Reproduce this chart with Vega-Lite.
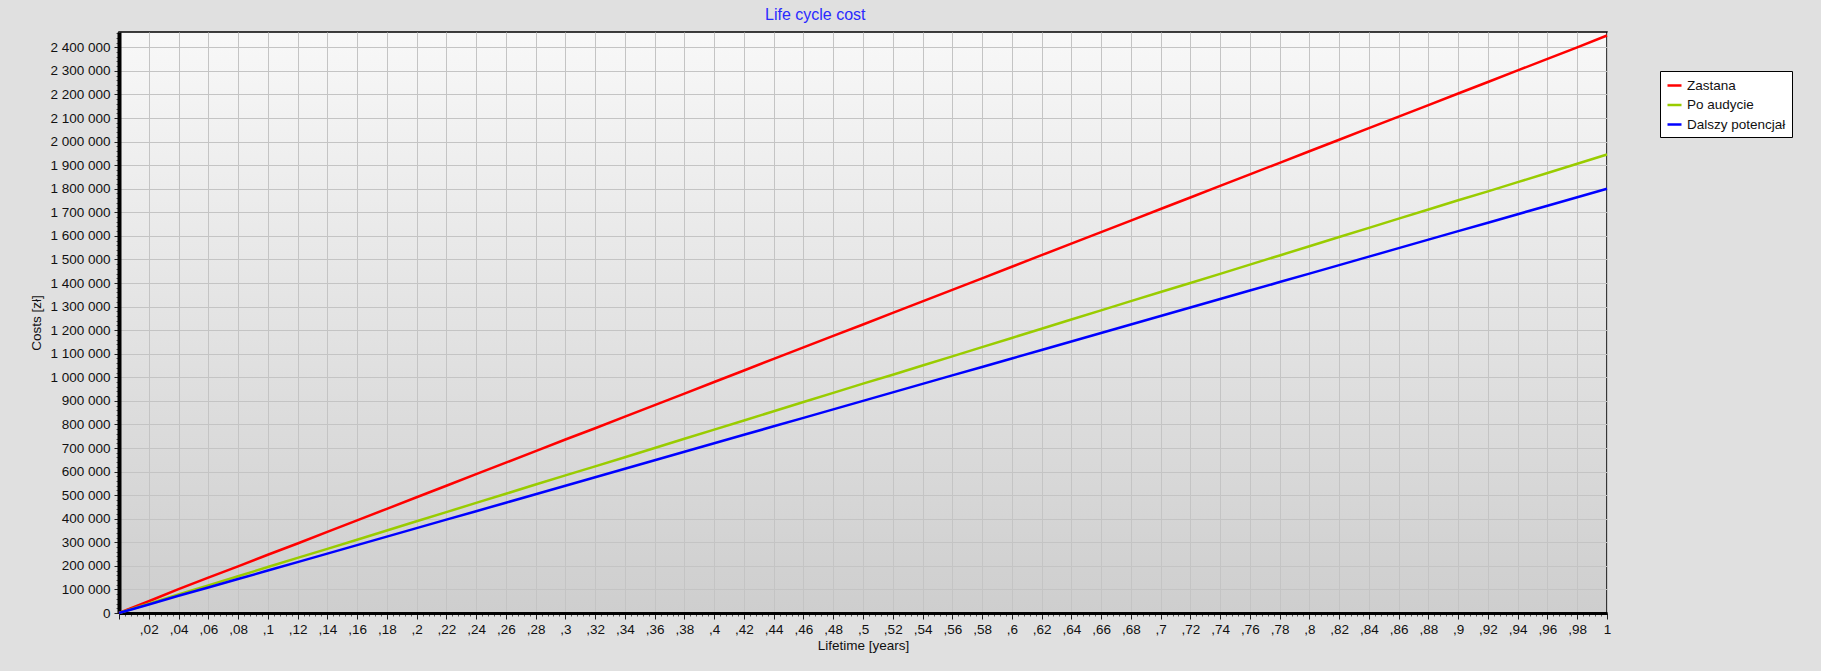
{
  "$schema": "https://vega.github.io/schema/vega-lite/v6.json",
  "width": 1488,
  "height": 581,
  "autosize": {"type": "none"},
  "padding": {"left": 119, "top": 32, "right": 214, "bottom": 58},
  "background": "#e0e0e0",
  "title": {"text": "Life cycle cost", "color": "#2a2aff", "font": "Liberation Sans", "fontSize": 16, "fontWeight": "normal", "anchor": "start", "frame": "group", "dx": 646, "offset": 8},
  "config": {
    "view": {"fill": {"gradient": "linear", "x1": 0, "y1": 0, "x2": 0, "y2": 1, "stops": [{"offset": 0, "color": "#f8f8f8"}, {"offset": 1, "color": "#cecece"}]}, "stroke": "black", "strokeWidth": 1.5},
    "axis": {"labelFont": "Liberation Sans", "titleFont": "Liberation Sans", "labelColor": "#111111", "titleColor": "#111111", "labelFontSize": 13.5, "titleFontSize": 13.5, "titleFontWeight": "normal", "gridColor": "#c4c4c4", "gridWidth": 1, "gridOpacity": 1, "tickColor": "#222222", "domainColor": "black"}
  },
  "data": {"values": [
    {"t": 0, "Zastana": 0, "Po audycie": 0, "Dalszy potencjał": 0},
    {"t": 0.02, "Zastana": 50000, "Po audycie": 39000, "Dalszy potencjał": 36000},
    {"t": 0.04, "Zastana": 101000, "Po audycie": 78500, "Dalszy potencjał": 73000},
    {"t": 0.06, "Zastana": 150000, "Po audycie": 117000, "Dalszy potencjał": 108000},
    {"t": 0.08, "Zastana": 198000, "Po audycie": 156000, "Dalszy potencjał": 144000},
    {"t": 0.1, "Zastana": 247000, "Po audycie": 195000, "Dalszy potencjał": 180000},
    {"t": 0.12, "Zastana": 295000, "Po audycie": 234000, "Dalszy potencjał": 216000},
    {"t": 0.14, "Zastana": 344000, "Po audycie": 272000, "Dalszy potencjał": 252000},
    {"t": 0.16, "Zastana": 393000, "Po audycie": 311000, "Dalszy potencjał": 288000},
    {"t": 0.18, "Zastana": 442000, "Po audycie": 350000, "Dalszy potencjał": 324000},
    {"t": 0.2, "Zastana": 491000, "Po audycie": 389000, "Dalszy potencjał": 360000},
    {"t": 0.22, "Zastana": 540000, "Po audycie": 428000, "Dalszy potencjał": 396000},
    {"t": 0.24, "Zastana": 589000, "Po audycie": 467000, "Dalszy potencjał": 432000},
    {"t": 0.26, "Zastana": 638000, "Po audycie": 506000, "Dalszy potencjał": 468000},
    {"t": 0.28, "Zastana": 687000, "Po audycie": 545000, "Dalszy potencjał": 504000},
    {"t": 0.3, "Zastana": 736000, "Po audycie": 584000, "Dalszy potencjał": 540000},
    {"t": 0.32, "Zastana": 784000, "Po audycie": 622000, "Dalszy potencjał": 576000},
    {"t": 0.34, "Zastana": 833000, "Po audycie": 661000, "Dalszy potencjał": 612000},
    {"t": 0.36, "Zastana": 882000, "Po audycie": 700000, "Dalszy potencjał": 648000},
    {"t": 0.38, "Zastana": 931000, "Po audycie": 739000, "Dalszy potencjał": 684000},
    {"t": 0.4, "Zastana": 980000, "Po audycie": 778000, "Dalszy potencjał": 720000},
    {"t": 0.42, "Zastana": 1029000, "Po audycie": 817000, "Dalszy potencjał": 756000},
    {"t": 0.44, "Zastana": 1078000, "Po audycie": 856000, "Dalszy potencjał": 792000},
    {"t": 0.46, "Zastana": 1127000, "Po audycie": 895000, "Dalszy potencjał": 828000},
    {"t": 0.48, "Zastana": 1176000, "Po audycie": 934000, "Dalszy potencjał": 864000},
    {"t": 0.5, "Zastana": 1224000, "Po audycie": 973000, "Dalszy potencjał": 900000},
    {"t": 0.52, "Zastana": 1273000, "Po audycie": 1011000, "Dalszy potencjał": 936000},
    {"t": 0.54, "Zastana": 1322000, "Po audycie": 1050000, "Dalszy potencjał": 972000},
    {"t": 0.56, "Zastana": 1371000, "Po audycie": 1089000, "Dalszy potencjał": 1008000},
    {"t": 0.58, "Zastana": 1420000, "Po audycie": 1128000, "Dalszy potencjał": 1044000},
    {"t": 0.6, "Zastana": 1469000, "Po audycie": 1167000, "Dalszy potencjał": 1080000},
    {"t": 0.62, "Zastana": 1518000, "Po audycie": 1206000, "Dalszy potencjał": 1116000},
    {"t": 0.64, "Zastana": 1567000, "Po audycie": 1245000, "Dalszy potencjał": 1152000},
    {"t": 0.66, "Zastana": 1616000, "Po audycie": 1284000, "Dalszy potencjał": 1188000},
    {"t": 0.68, "Zastana": 1665000, "Po audycie": 1323000, "Dalszy potencjał": 1224000},
    {"t": 0.7, "Zastana": 1714000, "Po audycie": 1362000, "Dalszy potencjał": 1260000},
    {"t": 0.72, "Zastana": 1763000, "Po audycie": 1400000, "Dalszy potencjał": 1296000},
    {"t": 0.74, "Zastana": 1812000, "Po audycie": 1439000, "Dalszy potencjał": 1332000},
    {"t": 0.76, "Zastana": 1861000, "Po audycie": 1478000, "Dalszy potencjał": 1368000},
    {"t": 0.78, "Zastana": 1910000, "Po audycie": 1517000, "Dalszy potencjał": 1404000},
    {"t": 0.8, "Zastana": 1959000, "Po audycie": 1556000, "Dalszy potencjał": 1440000},
    {"t": 0.82, "Zastana": 2008000, "Po audycie": 1595000, "Dalszy potencjał": 1476000},
    {"t": 0.84, "Zastana": 2057000, "Po audycie": 1634000, "Dalszy potencjał": 1512000},
    {"t": 0.86, "Zastana": 2106000, "Po audycie": 1673000, "Dalszy potencjał": 1548000},
    {"t": 0.88, "Zastana": 2155000, "Po audycie": 1712000, "Dalszy potencjał": 1584000},
    {"t": 0.9, "Zastana": 2204000, "Po audycie": 1751000, "Dalszy potencjał": 1620000},
    {"t": 0.92, "Zastana": 2253000, "Po audycie": 1789000, "Dalszy potencjał": 1656000},
    {"t": 0.94, "Zastana": 2302000, "Po audycie": 1828000, "Dalszy potencjał": 1692000},
    {"t": 0.96, "Zastana": 2351000, "Po audycie": 1867000, "Dalszy potencjał": 1728000},
    {"t": 0.98, "Zastana": 2400000, "Po audycie": 1906000, "Dalszy potencjał": 1764000},
    {"t": 1, "Zastana": 2450000, "Po audycie": 1945000, "Dalszy potencjał": 1800000}
  ]},
  "transform": [{"fold": ["Zastana", "Po audycie", "Dalszy potencjał"], "as": ["series", "cost"]}],
  "layer": [
    {
      "mark": {"type": "line", "opacity": 0},
      "encoding": {
        "x": {"field": "t", "type": "quantitative", "scale": {"domain": [0, 1], "nice": false, "zero": false},
          "axis": {"orient": "bottom", "values": [0.004,0.008,0.012,0.016,0.024,0.028,0.032,0.036,0.044,0.048,0.052,0.056,0.064,0.068,0.072,0.076,0.084,0.088,0.092,0.096,
            0.104,0.108,0.112,0.116,0.124,0.128,0.132,0.136,0.144,0.148,0.152,0.156,0.164,0.168,0.172,0.176,0.184,0.188,0.192,0.196,
            0.204,0.208,0.212,0.216,0.224,0.228,0.232,0.236,0.244,0.248,0.252,0.256,0.264,0.268,0.272,0.276,0.284,0.288,0.292,0.296,
            0.304,0.308,0.312,0.316,0.324,0.328,0.332,0.336,0.344,0.348,0.352,0.356,0.364,0.368,0.372,0.376,0.384,0.388,0.392,0.396,
            0.404,0.408,0.412,0.416,0.424,0.428,0.432,0.436,0.444,0.448,0.452,0.456,0.464,0.468,0.472,0.476,0.484,0.488,0.492,0.496,
            0.504,0.508,0.512,0.516,0.524,0.528,0.532,0.536,0.544,0.548,0.552,0.556,0.564,0.568,0.572,0.576,0.584,0.588,0.592,0.596,
            0.604,0.608,0.612,0.616,0.624,0.628,0.632,0.636,0.644,0.648,0.652,0.656,0.664,0.668,0.672,0.676,0.684,0.688,0.692,0.696,
            0.704,0.708,0.712,0.716,0.724,0.728,0.732,0.736,0.744,0.748,0.752,0.756,0.764,0.768,0.772,0.776,0.784,0.788,0.792,0.796,
            0.804,0.808,0.812,0.816,0.824,0.828,0.832,0.836,0.844,0.848,0.852,0.856,0.864,0.868,0.872,0.876,0.884,0.888,0.892,0.896,
            0.904,0.908,0.912,0.916,0.924,0.928,0.932,0.936,0.944,0.948,0.952,0.956,0.964,0.968,0.972,0.976,0.984,0.988,0.992,0.996],
            "labels": false, "grid": false, "domain": false, "title": null, "tickSize": 3, "tickColor": "#555555"}},
        "y": {"field": "cost", "type": "quantitative", "scale": {"domain": [0, 2465000], "nice": false},
          "axis": {"orient": "left", "values": [20000,40000,60000,80000,120000,140000,160000,180000,220000,240000,260000,280000,320000,340000,360000,380000,420000,440000,460000,480000,520000,540000,560000,580000,620000,640000,660000,680000,720000,740000,760000,780000,820000,840000,860000,880000,920000,940000,960000,980000,1020000,1040000,1060000,1080000,1120000,1140000,1160000,1180000,1220000,1240000,1260000,1280000,1320000,1340000,1360000,1380000,1420000,1440000,1460000,1480000,1520000,1540000,1560000,1580000,1620000,1640000,1660000,1680000,1720000,1740000,1760000,1780000,1820000,1840000,1860000,1880000,1920000,1940000,1960000,1980000,2020000,2040000,2060000,2080000,2120000,2140000,2160000,2180000,2220000,2240000,2260000,2280000,2320000,2340000,2360000,2380000,2420000,2440000,2460000],
            "labels": false, "grid": false, "domain": false, "title": null, "tickSize": 3, "tickColor": "#555555"}},
        "detail": {"field": "series"}
      }
    },
    {
      "mark": {"type": "line", "strokeWidth": 2.5},
      "encoding": {
        "x": {"field": "t", "type": "quantitative", "scale": {"domain": [0, 1], "nice": false, "zero": false},
          "axis": {"orient": "bottom", "title": "Lifetime [years]", "grid": true, "values": [0,0.02,0.04,0.06,0.08,0.1,0.12,0.14,0.16,0.18,0.2,0.22,0.24,0.26,0.28,0.3,0.32,0.34,0.36,0.38,0.4,0.42,0.44,0.46,0.48,0.5,0.52,0.54,0.56,0.58,0.6,0.62,0.64,0.66,0.68,0.7,0.72,0.74,0.76,0.78,0.8,0.82,0.84,0.86,0.88,0.9,0.92,0.94,0.96,0.98,1],
            "labelExpr": "datum.value == 0 ? '' : replace(format(datum.value, '.2~f'), '0.', ',')",
            "tickSize": 6, "labelPadding": 3, "domainWidth": 3, "titlePadding": 3, "labelFlush": false, "labelOverlap": false}},
        "y": {"field": "cost", "type": "quantitative", "scale": {"domain": [0, 2465000], "nice": false},
          "axis": {"orient": "left", "title": "Costs [zł]", "grid": true, "values": [0,100000,200000,300000,400000,500000,600000,700000,800000,900000,1000000,1100000,1200000,1300000,1400000,1500000,1600000,1700000,1800000,1900000,2000000,2100000,2200000,2300000,2400000],
            "labelExpr": "replace(format(datum.value, ','), regexp(',', 'g'), ' ')",
            "tickSize": 5, "labelPadding": 4, "domainWidth": 4, "titlePadding": 6, "labelFlush": false, "labelOverlap": false}},
        "color": {"field": "series", "type": "nominal",
          "scale": {"domain": ["Zastana", "Po audycie", "Dalszy potencjał"], "range": ["#ff0000", "#99cc00", "#0000ff"]},
          "legend": {"title": null, "orient": "none", "legendX": 1541, "legendY": 39, "fillColor": "white", "strokeColor": "black", "padding": 6, "symbolType": "stroke", "symbolStrokeWidth": 2.5, "symbolSize": 196, "labelFont": "Liberation Sans", "labelFontSize": 13.5, "labelColor": "#111111", "labelOffset": 4, "rowPadding": 4.5, "cornerRadius": 0}}
      }
    }
  ],
  "resolve": {"axis": {"x": "independent", "y": "independent"}}
}
